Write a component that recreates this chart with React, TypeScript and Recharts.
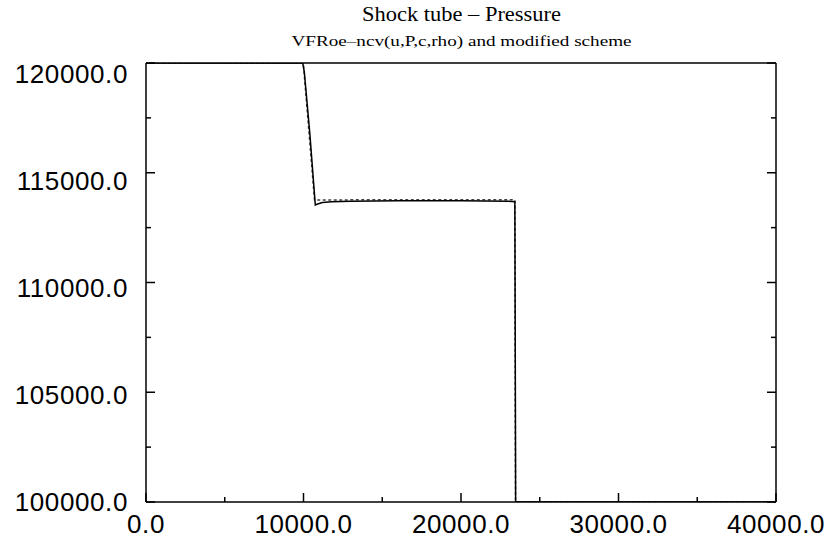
import { LineChart, Line, XAxis, YAxis } from 'recharts';

document.body.style.margin = '0';

// first scheme: VFRoe-ncv (solid)
const vfroeX = [0, 9950, 10050, 10400, 10750, 10900, 11200, 11800, 13000, 16000, 20000, 23000, 23420, 23470, 40000];
const vfroeP = [120000, 120000, 119600, 116800, 113530, 113580, 113640, 113680, 113700, 113720, 113720, 113700, 113680, 100000, 100000];

// modified scheme (dashed)
const modX = [0, 9950, 10000, 10700, 16000, 23420, 23460, 40000];
const modP = [120000, 120000, 119900, 113760, 113770, 113770, 100000, 100000];

const xTicks = [0, 5000, 10000, 15000, 20000, 25000, 30000, 35000, 40000];
const yTicks = [100000, 102500, 105000, 107500, 110000, 112500, 115000, 117500, 120000];

const title = 'Shock tube \u2013 Pressure';
const subtitle = 'VFRoe\u2013ncv(u,P,c,rho) and modified scheme';

const toPoints = (xs: number[], ps: number[]) => xs.map((x, i) => ({ x, p: ps[i] }));
const vfroe = toPoints(vfroeX, vfroeP);
const modified = toPoints(modX, modP);

const fmt = (v: number) => v.toFixed(1);

const MAJOR = 9;
const MINOR = 5;
const labelFont = {
  fontFamily: '"Liberation Sans", Arial, sans-serif',
  fontSize: 26,
  letterSpacing: 0.6,
  fill: '#000',
};
const serif = '"Liberation Serif", "Times New Roman", serif';
const axisStroke = { stroke: '#000', strokeWidth: 1.5 };

function BottomTick({ x, y, payload }: any) {
  const v = payload.value as number;
  const major = v % 10000 === 0;
  return (
    <g>
      <line x1={x} x2={x} y1={y} y2={y - (major ? MAJOR : MINOR)} {...axisStroke} />
      {major && (
        <text x={x} y={y + 31} textAnchor="middle" {...labelFont}>
          {fmt(v)}
        </text>
      )}
    </g>
  );
}

function LeftTick({ x, y, payload }: any) {
  const v = payload.value as number;
  const major = v % 5000 === 0;
  // labels creep downward a little as they go up the axis
  const drift = ((v - 100000) / 20000) * 10.5;
  return (
    <g>
      <line x1={x} x2={x + (major ? MAJOR : MINOR)} y1={y} y2={y} {...axisStroke} />
      {major && (
        <text x={x - 18} y={y + drift + 9.3} textAnchor="end" {...labelFont}>
          {fmt(v)}
        </text>
      )}
    </g>
  );
}

function RightTick({ x, y, payload }: any) {
  const v = payload.value as number;
  const major = v % 5000 === 0;
  return <line x1={x - (major ? MAJOR : MINOR)} x2={x} y1={y} y2={y} {...axisStroke} />;
}

export default function App() {
  return (
    <div style={{ position: 'relative', width: 833, height: 545, background: '#fff' }}>
      <LineChart width={833} height={545} margin={{ top: 62, right: 56, left: 0, bottom: 0 }}>
        <XAxis
          dataKey="x"
          type="number"
          domain={[0, 40000]}
          ticks={xTicks}
          interval={0}
          height={43}
          tickSize={0}
          tickMargin={0}
          tickLine={false}
          axisLine={axisStroke}
          tick={<BottomTick />}
          allowDataOverflow
        />
        <XAxis
          xAxisId="top"
          dataKey="x"
          orientation="top"
          type="number"
          domain={[0, 40000]}
          height={1}
          tick={false}
          tickLine={false}
          axisLine={axisStroke}
          allowDataOverflow
        />
        <YAxis
          type="number"
          domain={[100000, 120000]}
          ticks={yTicks}
          interval={0}
          width={146}
          tickSize={0}
          tickMargin={0}
          tickLine={false}
          axisLine={axisStroke}
          tick={<LeftTick />}
          allowDataOverflow
        />
        <YAxis
          yAxisId="right"
          orientation="right"
          type="number"
          domain={[100000, 120000]}
          ticks={yTicks}
          interval={0}
          width={1}
          tickSize={0}
          tickMargin={0}
          tickLine={false}
          axisLine={axisStroke}
          tick={<RightTick />}
          allowDataOverflow
        />
        {/* the modified scheme is plotted against the mirrored axes, same domains */}
        <Line
          xAxisId="top"
          yAxisId="right"
          data={modified}
          dataKey="p"
          type="linear"
          stroke="#444"
          strokeWidth={1.5}
          strokeDasharray="3 2.5"
          dot={false}
          isAnimationActive={false}
        />
        <Line
          data={vfroe}
          dataKey="p"
          type="linear"
          stroke="#000"
          strokeWidth={1.5}
          dot={false}
          isAnimationActive={false}
        />
      </LineChart>
      <svg
        width={833}
        height={60}
        style={{ position: 'absolute', left: 0, top: 0, pointerEvents: 'none' }}
      >
        <text
          x={461.5}
          y={21}
          textAnchor="middle"
          fontFamily={serif}
          fontSize={20}
          textLength={199}
          lengthAdjust="spacingAndGlyphs"
          fill="#000"
        >
          {title}
        </text>
        <text
          x={461.5}
          y={46}
          textAnchor="middle"
          fontFamily={serif}
          fontSize={15.5}
          textLength={340}
          lengthAdjust="spacingAndGlyphs"
          fill="#000"
        >
          {subtitle}
        </text>
      </svg>
    </div>
  );
}
